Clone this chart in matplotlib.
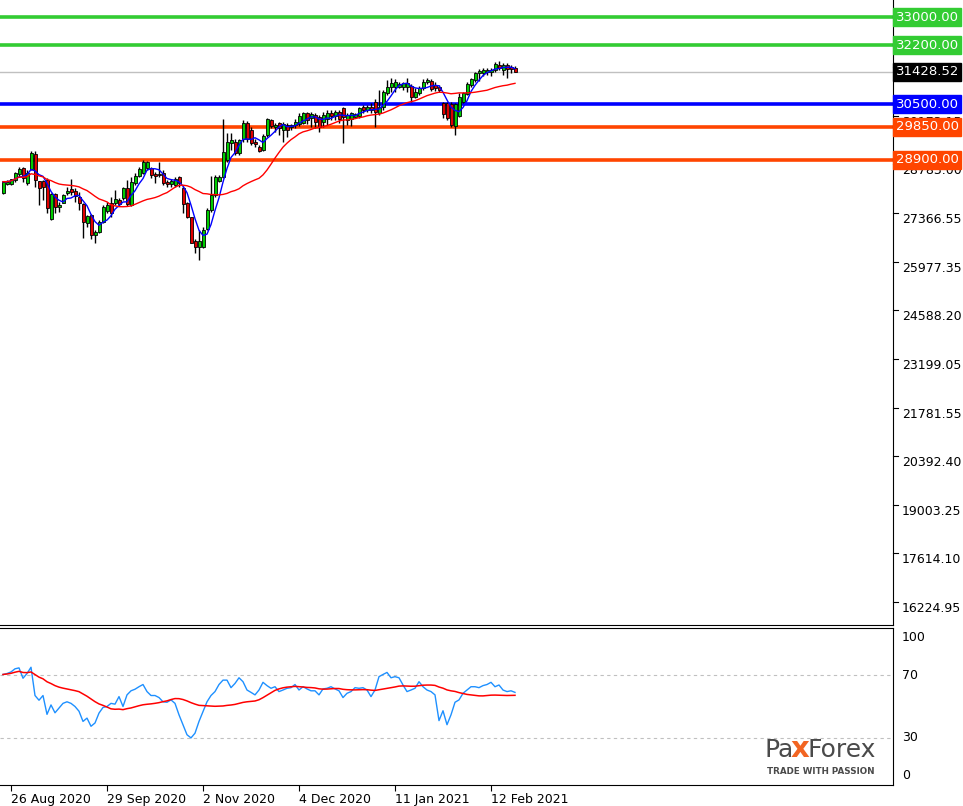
import matplotlib.pyplot as plt
import numpy as np
import pandas as pd

# daily candles
opens = [27943, 28211, 28202, 28326, 28498, 28661, 28230, 28632, 29072, 28297,
         28297, 28326, 27197, 27924, 27541, 27675, 27943, 28058, 28020, 27848,
         27637, 27101, 27321, 26747, 26843, 27130, 27446, 27675, 27675, 27752,
         27800, 28087, 27608, 28250, 28440, 28537, 28661, 28661, 28498, 28498,
         28537, 28278, 28211, 28183, 28403, 28087, 27656, 27254, 26585, 26393,
         26412, 26910, 27465, 27895, 28307, 28403, 28900, 29397, 29426, 29091,
         29493, 29952, 29761, 29426, 29283, 29187, 29617, 30048, 29837, 29952,
         29761, 29904, 29857, 29904, 29933, 29952, 30239, 30096, 30191, 30144,
         30000, 30067, 30239, 30163, 30287, 30383, 30048, 30067, 30144, 30163,
         30411, 30335, 30430, 30574, 30239, 30430, 30813, 31005, 31005, 31005,
         31005, 31005, 31034, 30718, 30814, 30957, 31148, 31168, 31053, 31005,
         30527, 30527, 30498, 29886, 30173, 30556, 30785, 31053, 31197, 31388,
         31388, 31436, 31436, 31484, 31627, 31484, 31627, 31579, 31550]
highs = [28297, 28326, 28364, 28565, 28709, 28709, 28613, 29168, 29168, 28297,
         28326, 28374, 27943, 27962, 27704, 27924, 28135, 28345, 28087, 27991,
         27656, 27321, 27350, 26891, 27178, 27608, 27704, 27848, 28039, 27800,
         28135, 28326, 28422, 28517, 28709, 28900, 28872, 28709, 28565, 28852,
         28613, 28326, 28345, 28422, 28440, 28154, 27704, 27273, 26623, 26891,
         26987, 27513, 28441, 28470, 28470, 30067, 29665, 29665, 29493, 29493,
         30048, 30029, 29837, 29493, 29330, 29646, 30096, 30067, 29952, 30000,
         30000, 29952, 29933, 30067, 30239, 30287, 30287, 30287, 30239, 30191,
         30287, 30335, 30335, 30335, 30335, 30430, 30239, 30287, 30259, 30430,
         30479, 30479, 30526, 30641, 30909, 30909, 31196, 31244, 31225, 31148,
         31148, 31244, 31072, 30957, 31034, 31225, 31263, 31225, 31129, 31053,
         30574, 30574, 30574, 30527, 30814, 30862, 31148, 31263, 31436, 31512,
         31531, 31531, 31550, 31704, 31742, 31675, 31675, 31627, 31608]
lows = [27924, 28183, 28183, 28278, 28422, 28278, 28183, 28613, 28135, 27608,
        27752, 27369, 27178, 27369, 27417, 27656, 27895, 27895, 27704, 27465,
        26652, 26987, 26623, 26508, 26795, 27082, 27369, 27273, 27608, 27580,
        27752, 27580, 27580, 28183, 28422, 28498, 28613, 28374, 28230, 28422,
        28183, 28115, 28135, 28115, 28135, 27369, 27226, 26508, 26221, 26030,
        26364, 26891, 27417, 27848, 28278, 28374, 28852, 29187, 29043, 29043,
        29426, 29426, 29330, 29283, 29139, 29168, 29570, 29809, 29713, 29617,
        29426, 29570, 29761, 29809, 29876, 29933, 29933, 29857, 29809, 29713,
        29857, 29904, 30048, 30048, 29952, 29378, 29904, 29876, 30096, 30096,
        30239, 30287, 30239, 29857, 30191, 30335, 30765, 30861, 30861, 30957,
        30909, 30861, 30574, 30670, 30766, 30909, 31072, 30881, 30881, 30862,
        30115, 30048, 29857, 29618, 30144, 30527, 30766, 31005, 31148, 31168,
        31321, 31340, 31321, 31436, 31484, 31340, 31263, 31388, 31417]
closes = [28278, 28278, 28345, 28517, 28632, 28374, 28517, 29091, 28326, 28087,
          28135, 27513, 27924, 27541, 27608, 27895, 28010, 27991, 27867, 27656,
          27130, 27293, 26747, 26834, 27130, 27561, 27608, 27369, 27771, 27637,
          28087, 27637, 28278, 28440, 28632, 28852, 28852, 28470, 28440, 28480,
          28250, 28211, 28307, 28345, 28250, 27637, 27273, 26527, 26393, 26585,
          26891, 27465, 27895, 28422, 28403, 29139, 29426, 29474, 29110, 29474,
          29972, 29493, 29397, 29359, 29168, 29589, 30067, 29876, 29904, 29809,
          29933, 29761, 29904, 30000, 30163, 30259, 30048, 30220, 30000, 29857,
          30191, 30259, 30163, 30287, 30067, 30144, 30191, 30239, 30220, 30383,
          30335, 30430, 30335, 30287, 30430, 30861, 31005, 31120, 31129, 31072,
          31101, 31101, 30718, 30861, 30976, 31148, 31197, 30938, 30957, 30909,
          30211, 30096, 29905, 30498, 30718, 30814, 31072, 31225, 31388, 31455,
          31484, 31484, 31484, 31646, 31531, 31627, 31512, 31512, 31428.52]

rsi = [70.4, 71, 72, 74, 74.6, 68, 71, 75, 57, 54, 57, 45, 51, 46, 49, 52, 53, 52, 50, 47,
       40.5, 42.6, 37.4, 39.5, 45.8, 49.4, 50, 52, 51.5, 56.3, 50, 57.4, 60, 61, 62.6, 64,
       59.5, 57, 57, 55.7, 53, 52.7, 54.2, 52, 44.7, 38.4, 32, 30, 33, 40.5, 46.8, 53, 57,
       59.5, 64, 66.8, 66.8, 62, 64.7, 68.3, 65.8, 60.5, 59, 57.4, 60.5, 65.4, 63.3, 61.6,
       62.6, 59.5, 60.5, 61.6, 62, 64, 60.5, 62.6, 61.2, 60, 60, 57.4, 61.2, 61.6, 62.6,
       61.2, 60, 55.7, 58.4, 59.5, 62, 61.6, 62, 60.5, 56.3, 60.5, 69, 70.4, 71.7, 68.3,
       69, 68.3, 63.7, 59.5, 60.5, 61.6, 65.8, 62.6, 60.5, 59.5, 57.4, 41, 47.3, 38.4,
       44.7, 52.7, 54.2, 58.4, 60.5, 62.6, 62.6, 62, 63.3, 64, 65.4, 62.6, 63.7, 60.5,
       59.5, 60, 59]

date_labels = ["26 Aug 2020", "29 Sep 2020", "2 Nov 2020", "4 Dec 2020", "11 Jan 2021", "12 Feb 2021"]
date_bars = [2, 26, 50, 74, 98, 122]

levels = [33000, 32200, 30500, 29850, 28900]
level_colors = ["#33cc33", "#33cc33", "#0000ff", "#ff4500", "#ff4500"]
price_ticks = [27366.55, 25977.35, 24588.20, 23199.05, 21781.55, 20392.40, 19003.25, 17614.10, 16224.95]
hidden_ticks = [31562.30, 30173.15, 28783.00]

df = pd.DataFrame({"o": opens, "h": highs, "l": lows, "c": closes})
x = np.arange(len(df))
ma_fast = df["c"].rolling(5, min_periods=1).mean()
ma_slow = df["c"].rolling(20, min_periods=1).mean()
rsi_s = pd.Series(rsi)
rsi_ma = rsi_s.rolling(20, min_periods=1).mean()

W, H = 963, 806
fig = plt.figure(figsize=(W / 100, H / 100), dpi=100)
ax = fig.add_axes([0, 1 - 625 / H, 893 / W, 625 / H])
ax2 = fig.add_axes([0, 1 - 785 / H, 893 / W, 157 / H])
xlim = (-0.75, 222.5)

# main pane
ax.set_xlim(*xlim)
ax.set_ylim(15554, 33492)
for lv, col in zip(levels, level_colors):
    ax.axhline(lv, color=col, lw=2.6, zorder=2)
ax.axhline(closes[-1], color="#c0c0c0", lw=1, zorder=1)
up = df["c"] >= df["o"]
ax.vlines(x, df["l"], df["h"], color="black", lw=1, zorder=3)
body_lo = np.minimum(df["o"], df["c"])
body_h = np.maximum(np.abs(df["c"] - df["o"]), 15)
ax.bar(x, body_h, bottom=body_lo, width=0.75, color=np.where(up, "#00cc00", "#e00000"),
       edgecolor="black", lw=0.6, zorder=4)
ax.plot(x, ma_fast, color="#0000ff", lw=1, zorder=5)
ax.plot(x, ma_slow, color="#ff0000", lw=1, zorder=5)
ax.set_xticks([])
ax.set_yticks([])
for s in ["left", "top"]:
    ax.spines[s].set_visible(False)

for p in price_ticks + hidden_ticks:
    ax.plot([1, 1.006], [p, p], color="black", lw=0.8, transform=ax.get_yaxis_transform(), clip_on=False)
    ax.text(1.01, p, f"{p:.2f}", transform=ax.get_yaxis_transform(), fontsize=9,
            va="top", ha="left", zorder=1)

def tag(val, col, txtcol="white"):
    ax.text(1.003, val, f"{val:.2f}", transform=ax.get_yaxis_transform(), fontsize=9.5,
            va="center", ha="left", color=txtcol, zorder=10, clip_on=False,
            bbox=dict(boxstyle="square,pad=0.18", fc=col, ec=col))

for lv, col in zip(levels, level_colors):
    tag(lv, col)
tag(closes[-1], "black")

# RSI pane
ax2.set_xlim(*xlim)
ax2.set_ylim(0, 100)
ax2.axhline(70, color="#c0c0c0", lw=0.8, ls=(0, (3, 3)))
ax2.axhline(30, color="#c0c0c0", lw=0.8, ls=(0, (3, 3)))
ax2.plot(x, rsi_s, color="#1e90ff", lw=1)
ax2.plot(x, rsi_ma, color="#ff0000", lw=1.1)
ax2.set_yticks([])
ax2.set_xticks(date_bars)
ax2.set_xticklabels(date_labels, fontsize=9, ha="left")
ax2.tick_params(axis="x", length=4, pad=2)
ax2.spines["left"].set_visible(False)
for v, off in [(100, -7), (70, 0), (30, 0), (0, 7)]:
    ax2.annotate(str(v), (1.01, v), xycoords=ax2.get_yaxis_transform(), xytext=(0, off),
                 textcoords="offset points", fontsize=9, va="center", ha="left", annotation_clip=False)

# logo
fig.text(764 / W, 1 - 750 / H, "Pa", fontsize=18, color="#4a4a4a", va="center", ha="left")
fig.text(791 / W, 1 - 749 / H, "x", fontsize=21, color="#f26522", va="center", ha="left",
         fontweight="bold")
fig.text(807 / W, 1 - 750 / H, "Forex", fontsize=18, color="#4a4a4a", va="center", ha="left")
fig.text(821 / W, 1 - 771 / H, "TRADE WITH PASSION", fontsize=6.3, color="#4a4a4a",
         va="center", ha="center", fontweight="bold")

fig.savefig("out.png", dpi=100)
